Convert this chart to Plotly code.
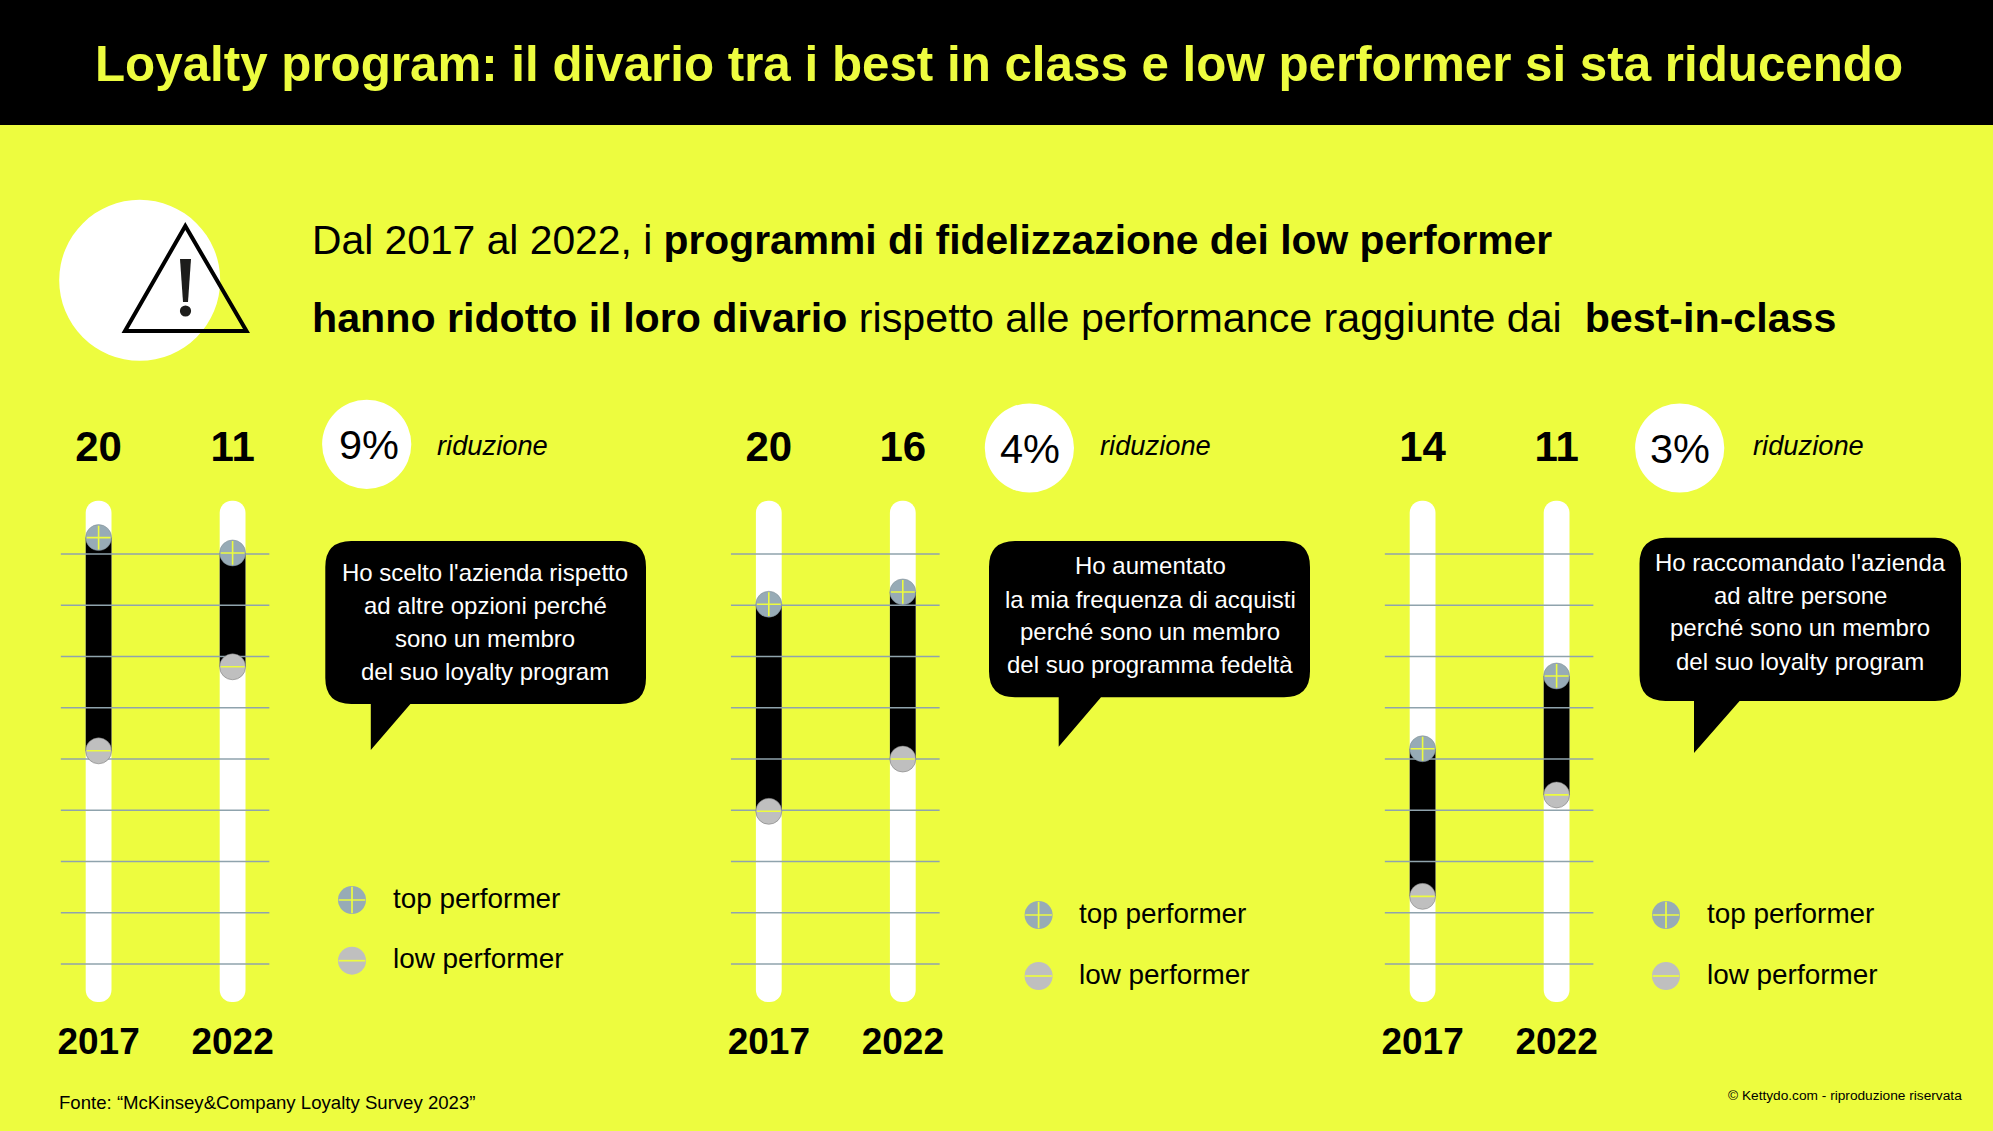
import plotly.graph_objects as go

W, H = 1993, 1131
YELLOW = "#edfc3f"
GRID = "#8fa3ad"
TOP_C = "#97abb6"
LOW_C = "#bfbfbf"
FONT = "Liberation Sans"

# dati
years = [2017, 2022]
top_1 = [41.6, 40.1]
low_1 = [20.8, 29.0]
gap_1 = ["20", "11"]
top_2 = [35.1, 36.3]
low_2 = [14.9, 20.0]
gap_2 = ["20", "16"]
top_3 = [21.0, 28.1]
low_3 = [6.6, 16.5]
gap_3 = ["14", "11"]
scale_lines = [0, 5, 10, 15, 20, 25, 30, 35, 40]
reductions = ["9%", "4%", "3%"]
quotes = [
    ["Ho scelto l'azienda rispetto", "ad altre opzioni perché", "sono un membro", "del suo loyalty program"],
    ["Ho aumentato", "la mia frequenza di acquisti", "perché sono un membro", "del suo programma fedeltà"],
    ["Ho raccomandato l'azienda", "ad altre persone", "perché sono un membro", "del suo loyalty program"],
]

PX_UNIT = 10.25     # pixel per unita
Y_ZERO = 964
PX_YEAR = 26.8
PANEL_LEFT = [60.6, 730.8, 1384.6]
PANEL_W = 209
TRACK_W = 25.8 / PX_YEAR
TRACK_TOP, TRACK_BOTTOM = 45.2, -3.7
PLOT_TOP, PLOT_BOTTOM = 420, 1002


def to_val(py):
    return (Y_ZERO - py) / PX_UNIT


fig = go.Figure()
layout_axes = {}
series = [(top_1, low_1, gap_1), (top_2, low_2, gap_2), (top_3, low_3, gap_3)]

for i, (top, low, gap) in enumerate(series):
    n = "" if i == 0 else str(i + 1)
    xa, ya = "x" + n, "y" + n
    x0 = 2017 - 38 / PX_YEAR
    x1 = x0 + PANEL_W / PX_YEAR
    left = PANEL_LEFT[i]
    layout_axes["xaxis" + n] = dict(
        domain=[left / W, (left + PANEL_W) / W], range=[x0, x1], anchor=ya,
        tickmode="array", tickvals=years, ticktext=[str(y) for y in years],
        tickfont=dict(family=FONT, size=37, color="black", weight="bold"),
        ticks="outside", ticklen=7, tickcolor="rgba(0,0,0,0)",
        showgrid=False, zeroline=False, showline=False, fixedrange=True, automargin=False,
    )
    layout_axes["yaxis" + n] = dict(
        domain=[1 - PLOT_BOTTOM / H, 1 - PLOT_TOP / H],
        range=[to_val(PLOT_BOTTOM), to_val(PLOT_TOP)], anchor=xa,
        visible=False, fixedrange=True, automargin=False,
    )
    # binario bianco
    fig.add_trace(go.Bar(
        x=years, y=[TRACK_TOP - TRACK_BOTTOM] * 2, base=[TRACK_BOTTOM] * 2, width=TRACK_W,
        marker=dict(color="white", cornerradius=13, line_width=0), xaxis=xa, yaxis=ya,
    ))
    # divario
    fig.add_trace(go.Bar(
        x=years, y=[t - l for t, l in zip(top, low)], base=low, width=TRACK_W,
        marker=dict(color="black", line_width=0), xaxis=xa, yaxis=ya,
    ))
    # linee della scala, sopra le barre
    gx, gy = [], []
    for v in scale_lines:
        gx += [x0, x1, None]
        gy += [v, v, None]
    fig.add_trace(go.Scatter(x=gx, y=gy, mode="lines", line=dict(color=GRID, width=1.3),
                             xaxis=xa, yaxis=ya))
    fig.add_trace(go.Scatter(x=years, y=top, mode="markers",
                             marker=dict(size=26, color=TOP_C, line=dict(color="#7d8a90", width=0.5)),
                             xaxis=xa, yaxis=ya))
    fig.add_trace(go.Scatter(x=years, y=low, mode="markers",
                             marker=dict(size=26, color=LOW_C, line=dict(color="#6f6f6f", width=0.5)),
                             xaxis=xa, yaxis=ya))
    fig.add_trace(go.Scatter(x=years, y=top, mode="markers",
                             marker=dict(symbol="cross-thin", size=17, color=YELLOW, line=dict(color=YELLOW, width=1.6)),
                             xaxis=xa, yaxis=ya))
    fig.add_trace(go.Scatter(x=years, y=low, mode="markers",
                             marker=dict(symbol="line-ew", size=17, color=YELLOW, line=dict(color=YELLOW, width=1.6)),
                             xaxis=xa, yaxis=ya))
    fig.add_trace(go.Scatter(x=years, y=[to_val(450)] * 2, mode="text", text=gap,
                             textfont=dict(family=FONT, size=42, color="black", weight="bold"),
                             xaxis=xa, yaxis=ya))

# asse a tutta pagina per gli elementi grafici, in pixel
OV = dict(xref="x4", yref="y4")
layout_axes["xaxis4"] = dict(domain=[0, 1], range=[0, W], anchor="y4", visible=False, fixedrange=True, automargin=False)
layout_axes["yaxis4"] = dict(domain=[0, 1], range=[H, 0], anchor="x4", visible=False, fixedrange=True, automargin=False)

# legende
legend_x = [352, 1038.6, 1666]
legend_top_y = [900, 915, 915]
legend_low_y = [960.7, 976, 976]
fig.add_trace(go.Scatter(x=legend_x, y=legend_top_y, mode="markers", marker=dict(size=28, color=TOP_C),
                         xaxis="x4", yaxis="y4"))
fig.add_trace(go.Scatter(x=legend_x, y=legend_low_y, mode="markers", marker=dict(size=28, color=LOW_C),
                         xaxis="x4", yaxis="y4"))
fig.add_trace(go.Scatter(x=legend_x, y=legend_top_y, mode="markers",
                         marker=dict(symbol="cross-thin", size=19, color=YELLOW, line=dict(color=YELLOW, width=1.7)),
                         xaxis="x4", yaxis="y4"))
fig.add_trace(go.Scatter(x=legend_x, y=legend_low_y, mode="markers",
                         marker=dict(symbol="line-ew", size=19, color=YELLOW, line=dict(color=YELLOW, width=1.7)),
                         xaxis="x4", yaxis="y4"))


def bubble(x0, y0, x1, y1, tail0, tail1, tip_y, r=26):
    return (f"M{x0 + r},{y0} L{x1 - r},{y0} Q{x1},{y0} {x1},{y0 + r} L{x1},{y1 - r} Q{x1},{y1} {x1 - r},{y1} "
            f"L{tail1},{y1} L{tail0},{tip_y} L{tail0},{y1} L{x0 + r},{y1} Q{x0},{y1} {x0},{y1 - r} "
            f"L{x0},{y0 + r} Q{x0},{y0} {x0 + r},{y0} Z")


def circle(cx, cy, r, color):
    return dict(type="circle", x0=cx - r, x1=cx + r, y0=cy - r, y1=cy + r,
                fillcolor=color, line_width=0, **OV)


shapes = [
    dict(type="rect", x0=0, x1=W, y0=0, y1=125, fillcolor="black", line_width=0, **OV),
    circle(139.7, 280.3, 80.5, "white"),
    dict(type="path", path="M185.3,226 L125,331 L246.5,331 Z", fillcolor="rgba(0,0,0,0)",
         line=dict(color="black", width=4), **OV),
    dict(type="path", path="M180,259 L191,259 L188,302 L183,302 Z", fillcolor="#1d1d1b", line_width=0, **OV),
    circle(185.5, 311, 5.6, "#1d1d1b"),
    dict(type="path", path=bubble(325.3, 541, 646, 704, 370.8, 410.4, 750), fillcolor="black", line_width=0, **OV),
    dict(type="path", path=bubble(989, 541, 1310, 697.3, 1058.7, 1101, 746.7), fillcolor="black", line_width=0, **OV),
    dict(type="path", path=bubble(1639.5, 537.7, 1961, 701, 1694, 1739.6, 753), fillcolor="black", line_width=0, **OV),
    circle(366.7, 444.3, 44.6, "white"),
    circle(1029.4, 448, 44.6, "white"),
    circle(1679.7, 448, 44.6, "white"),
]


def note(text, x, y, size, color="black", anchor="left", **font):
    return dict(text=text, x=x, y=y, xanchor=anchor, yanchor="middle", showarrow=False,
                align="center" if anchor == "center" else "left",
                font=dict(family=FONT, size=size, color=color, **font), **OV)


annotations = [
    note("<b>Loyalty program: il divario tra i best in class e low performer si sta riducendo</b>",
         999, 63, 49.3, YELLOW, "center"),
    note("Dal 2017 al 2022, i <b>programmi di fidelizzazione dei low performer</b>", 309.5, 240, 40.8),
    note("<b>hanno ridotto il loro divario</b> rispetto alle performance raggiunte dai  <b>best-in-class</b>",
         309.5, 318, 41.2),
    note("Fonte: “McKinsey&amp;Company Loyalty Survey 2023”", 56.5, 1102, 18.6),
    note("© Kettydo.com - riproduzione riservata", 1963.5, 1095.5, 13.7, anchor="right"),
]
ridu_x = [435, 1098.2, 1751.4]
quote_x = [485, 1150, 1800]
quote_y = [[572, 605.7, 638.7, 671], [565.7, 599, 631.7, 664], [562, 595.7, 627.7, 661]]
for i in range(3):
    annotations.append(note("riduzione", ridu_x[i], 445, 27.3, style="italic"))
    annotations.append(note(reductions[i], [369, 1029.9, 1680][i], [444.3, 448, 448][i], 41.5, anchor="center"))
    for line, ly in zip(quotes[i], quote_y[i]):
        annotations.append(note(line, quote_x[i], ly, 24, "white", "center"))
    annotations.append(note("top performer", [391, 1077.1, 1704.5][i], legend_top_y[i] - 2, 27.9))
    annotations.append(note("low performer", [391, 1077.1, 1704.5][i], legend_low_y[i] - 2, 27.9))

fig.update_layout(
    width=W, height=H, margin=dict(l=0, r=0, t=0, b=0, autoexpand=False),
    paper_bgcolor=YELLOW, plot_bgcolor="rgba(0,0,0,0)",
    barmode="overlay", showlegend=False, hovermode=False,
    shapes=shapes, annotations=annotations, **layout_axes,
)
fig.write_html("out.html", config={"displayModeBar": False},
               post_script="document.body.style.margin='0';document.documentElement.style.overflow='hidden';")
